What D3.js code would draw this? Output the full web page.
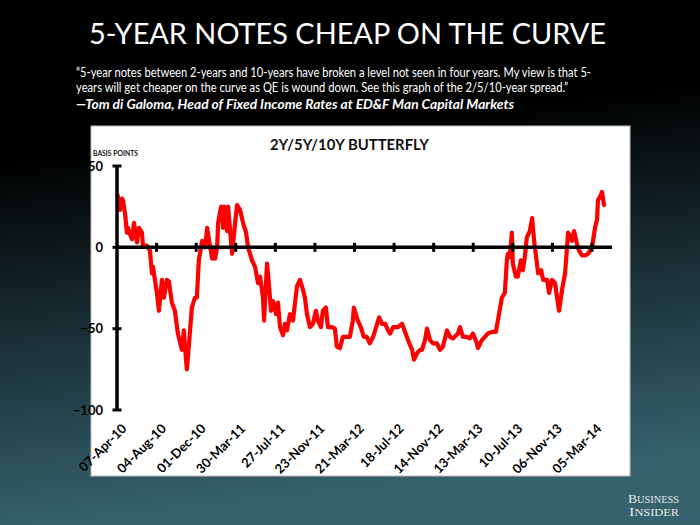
<!DOCTYPE html>
<html><head><meta charset="utf-8">
<script src="https://cdn.jsdelivr.net/npm/d3@7"></script>
<style>html,body{margin:0;padding:0;background:#000;overflow:hidden}</style>
</head><body>
<script>
// ---- DATA ----
const dates = [
"2010-04-09","2010-04-13","2010-04-16","2010-04-22","2010-04-25","2010-05-01","2010-05-07","2010-05-10","2010-05-16","2010-05-22",
"2010-05-28","2010-06-06","2010-06-12","2010-06-21","2010-06-24","2010-07-06","2010-07-15","2010-07-21","2010-07-24","2010-08-05",
"2010-08-11","2010-08-20","2010-08-26","2010-09-04","2010-09-10","2010-09-19","2010-09-28","2010-10-07","2010-10-19","2010-10-25",
"2010-10-28","2010-11-03","2010-11-06","2010-11-12","2010-11-18","2010-11-27","2010-12-03","2010-12-09","2010-12-19","2010-12-28",
"2011-01-03","2011-01-09","2011-01-18","2011-01-21","2011-01-27","2011-02-02","2011-02-05","2011-02-14","2011-02-20","2011-02-23",
"2011-03-04","2011-03-07","2011-03-19","2011-03-28","2011-04-03","2011-04-12","2011-04-21","2011-04-30","2011-05-06","2011-05-18",
"2011-05-27","2011-06-05","2011-06-11","2011-06-20","2011-06-23","2011-07-02","2011-07-05","2011-07-14","2011-07-20","2011-07-29",
"2011-08-04","2011-08-10","2011-08-19","2011-08-25","2011-08-31","2011-09-09","2011-09-18","2011-09-30","2011-10-09","2011-10-18",
"2011-10-24","2011-10-30","2011-11-08","2011-11-17","2011-11-26","2011-12-02","2011-12-11","2011-12-17","2011-12-26","2012-01-01",
"2012-01-13","2012-01-22","2012-01-28","2012-02-06","2012-02-15","2012-02-27","2012-03-07","2012-03-16","2012-03-19","2012-03-31",
"2012-04-09","2012-04-18","2012-04-27","2012-05-06","2012-05-16","2012-05-25","2012-06-03","2012-06-12","2012-06-21","2012-06-30",
"2012-07-06","2012-07-15","2012-07-30","2012-08-05","2012-08-11","2012-08-20","2012-08-29","2012-09-04","2012-09-10","2012-09-16",
"2012-09-25","2012-10-04","2012-10-10","2012-10-19","2012-10-25","2012-11-03","2012-11-12","2012-11-24","2012-12-03","2012-12-12",
"2012-12-24","2013-01-02","2013-01-11","2013-01-26","2013-02-01","2013-02-10","2013-02-22","2013-03-03","2013-03-12","2013-03-24",
"2013-03-27","2013-04-08","2013-04-17","2013-04-26","2013-05-08","2013-05-20","2013-05-26","2013-06-07","2013-06-16","2013-06-22",
"2013-06-25","2013-07-01","2013-07-07","2013-07-10","2013-07-19","2013-07-25","2013-08-03","2013-08-09","2013-08-15","2013-08-21",
"2013-08-30","2013-09-06","2013-09-12","2013-09-18","2013-09-24","2013-10-03","2013-10-09","2013-10-21","2013-10-27","2013-11-05",
"2013-11-14","2013-11-20","2013-11-26","2013-12-05","2013-12-14","2013-12-20","2013-12-23","2014-01-04","2014-01-10","2014-01-19",
"2014-01-25","2014-02-03","2014-02-12","2014-02-21","2014-03-05","2014-03-08","2014-03-14","2014-03-20","2014-03-23","2014-03-29",
"2014-04-04","2014-04-07","2014-04-10"
];
const values = [
32,27,23,30,29,21,9,12,8,5,
15,3,12,9,1,1,-2,-16,-12,-28,
-39,-20,-31,-20,-21,-34,-39,-53,-63,-51,
-60,-75,-68,-53,-37,-31,-31,-8,4,0,
12,4,-7,0,-7,0,15,25,12,25,
10,25,-4,15,26,23,15,9,0,-8,
-12,-22,-18,-31,-45,-10,-16,-39,-33,-41,
-34,-49,-54,-47,-51,-41,-45,-24,-20,-26,
-31,-41,-49,-47,-39,-45,-49,-39,-37,-49,
-49,-50,-61,-62,-55,-55,-55,-45,-37,-45,
-49,-55,-55,-59,-55,-49,-43,-47,-47,-51,
-53,-49,-49,-48,-47,-52,-57,-60,-63,-69,
-65,-63,-63,-57,-50,-57,-59,-59,-63,-61,
-51,-55,-56,-53,-49,-55,-55,-56,-53,-59,
-62,-57,-55,-53,-52,-52,-45,-31,-28,-8,
-4,-6,9,-10,-18,-18,-8,-14,-6,6,
10,18,4,-6,-16,-14,-20,-20,-28,-20,
-22,-31,-39,-26,-16,0,9,4,10,2,
-2,-5,-5,-4,0,4,12,17,29,31,
34,30,26
];
const tickLabels = ["07-Apr-10","04-Aug-10","01-Dec-10","30-Mar-11","27-Jul-11","23-Nov-11","21-Mar-12",
  "18-Jul-12","14-Nov-12","13-Mar-13","10-Jul-13","06-Nov-13","05-Mar-14"];
const yTicks = [50, 0, -50, -100];
const title = "5-YEAR NOTES CHEAP ON THE CURVE";
const quoteLines = [
  "\u201C5-year notes between 2-years and 10-years have broken a level not seen in four years. My view is that 5-",
  "years will get cheaper on the curve as QE is wound down. See this graph of the 2/5/10-year spread.\u201D"
];
const attribution = "\u2014Tom di Galoma, Head of Fixed Income Rates at ED&F Man Capital Markets";
const chartTitle = "2Y/5Y/10Y BUTTERFLY";
const yUnit = "BASIS POINTS";

// ---- DRAW ----
const W = 700, H = 525;
const svg = d3.select("body").append("svg").attr("width", W).attr("height", H);
const defs = svg.append("defs");
const g = defs.append("linearGradient").attr("id","bg").attr("x1",0).attr("y1",0).attr("x2",0.15).attr("y2",1);
g.append("stop").attr("offset","0%").attr("stop-color","#000");
g.append("stop").attr("offset","30%").attr("stop-color","#000");
g.append("stop").attr("offset","100%").attr("stop-color","#36626e");
svg.append("rect").attr("width",W).attr("height",H).attr("fill","url(#bg)");

const font = "Lato, 'Open Sans', sans-serif";
svg.append("text").text(title).attr("x",89).attr("y",44).attr("fill","#fff")
  .attr("font-family",font).attr("font-size",28).attr("textLength",517).attr("lengthAdjust","spacingAndGlyphs");
const qLens = [515, 492];
quoteLines.forEach((t,i)=>{
  svg.append("text").text(t).attr("x",76).attr("y",76.5+i*15.5).attr("fill","#fff")
    .attr("font-family",font).attr("font-size",12.5).attr("textLength",qLens[i]).attr("lengthAdjust","spacingAndGlyphs");
});
svg.append("text").text(attribution).attr("x",76).attr("y",108.5).attr("fill","#fff")
  .attr("font-family",font).attr("font-size",13.5).attr("font-style","italic").attr("font-weight","bold")
  .attr("textLength",438).attr("lengthAdjust","spacingAndGlyphs");

// chart panel
svg.append("rect").attr("x",91).attr("y",126).attr("width",539).attr("height",350)
  .attr("fill","#fff").attr("stroke","#bbb").attr("stroke-width",1);
svg.append("text").text(chartTitle).attr("x",270).attr("y",150).attr("fill","#111")
  .attr("font-family",font).attr("font-weight","bold").attr("font-size",15)
  .attr("textLength",159).attr("lengthAdjust","spacingAndGlyphs");
svg.append("text").text(yUnit).attr("x",93).attr("y",156).attr("fill","#111")
  .attr("font-family",font).attr("font-weight","bold").attr("font-size",6.5)
  .attr("textLength",45).attr("lengthAdjust","spacingAndGlyphs");

const parse = d3.timeParse("%Y-%m-%d");
const parseTick = d3.timeParse("%d-%b-%y");
const tickDates = tickLabels.map(parseTick);
const x = d3.scaleTime().domain([tickDates[0], tickDates[tickDates.length-1]]).range([117, 592]);
const y = d3.scaleLinear().domain([-100, 50]).range([410, 166]);
const data = dates.map((d,i)=>({d: parse(d), v: values[i]}));

// y tick labels
svg.selectAll(".yl").data(yTicks).enter().append("text")
  .text(d=>d3.format("d")(d))
  .attr("x",103).attr("y",d=>y(d)).attr("dy","0.36em").attr("text-anchor","end")
  .attr("font-family",font).attr("font-weight","bold").attr("font-size",13).attr("fill","#000");

// red line
svg.append("path").datum(data)
  .attr("d", d3.line().x(p=>x(p.d)).y(p=>y(p.v)))
  .attr("fill","none").attr("stroke","#ff0000").attr("stroke-width",4.2)
  .attr("stroke-linejoin","round").attr("stroke-linecap","round");

// x axis line at 0 with crossing ticks
const x0 = x.range()[0];
svg.append("line").attr("x1",x0).attr("x2",612).attr("y1",y(0)).attr("y2",y(0))
  .attr("stroke","#000").attr("stroke-width",3.5);
svg.selectAll(".xt").data(tickDates.slice(1)).enter().append("line")
  .attr("x1",d=>x(d)).attr("x2",d=>x(d)).attr("y1",y(0)-4.5).attr("y2",y(0)+4.5)
  .attr("stroke","#000").attr("stroke-width",3);

// y axis line with crossing ticks
svg.append("line").attr("x1",x0).attr("x2",x0).attr("y1",y(50)).attr("y2",y(-100))
  .attr("stroke","#000").attr("stroke-width",3.5);
svg.selectAll(".yt").data(yTicks).enter().append("line")
  .attr("x1",x0-4.5).attr("x2",x0+4.5).attr("y1",d=>y(d)).attr("y2",d=>y(d))
  .attr("stroke","#000").attr("stroke-width",3);

// x tick labels (rotated)
svg.selectAll(".xl").data(tickDates).enter().append("text")
  .text((d,i)=>tickLabels[i])
  .attr("transform",d=>`translate(${x(d)+4},${423}) rotate(-45)`)
  .attr("text-anchor","end").attr("dy","0.7em")
  .attr("font-family",font).attr("font-weight","bold").attr("font-size",13).attr("fill","#000");

// Business Insider logo
const bi = svg.append("g").attr("fill","#e4e8ea").attr("font-family","'Liberation Serif', 'DejaVu Serif', serif");
const t1 = bi.append("text").attr("x",628).attr("y",503).attr("textLength",51).attr("lengthAdjust","spacingAndGlyphs");
t1.append("tspan").attr("font-size",12.5).text("B"); t1.append("tspan").attr("font-size",9.5).text("USINESS");
const t2 = bi.append("text").attr("x",629).attr("y",516).attr("textLength",50).attr("lengthAdjust","spacingAndGlyphs");
t2.append("tspan").attr("font-size",12.5).text("I"); t2.append("tspan").attr("font-size",9.5).text("NSIDER");
</script>
</body></html>
